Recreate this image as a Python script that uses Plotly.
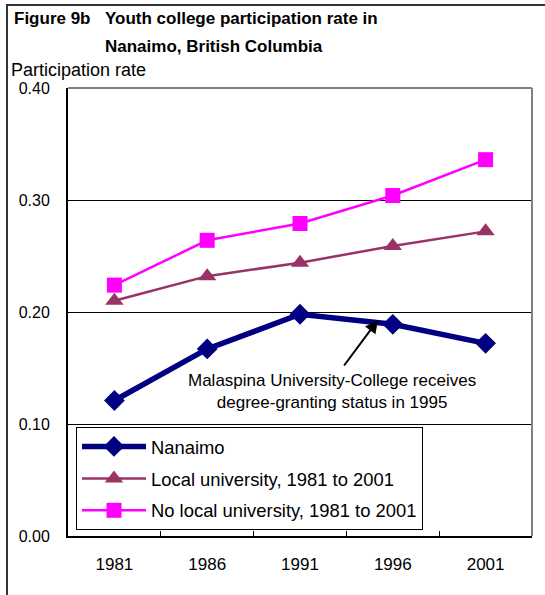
import plotly.graph_objects as go

years = ["1981", "1986", "1991", "1996", "2001"]
nanaimo = [0.121, 0.167, 0.198, 0.189, 0.172]
local_uni = [0.210, 0.232, 0.244, 0.259, 0.272]
no_local_uni = [0.224, 0.264, 0.279, 0.304, 0.336]
y_ticks = [0.0, 0.1, 0.2, 0.3, 0.4]

W, H = 545, 595
L, R, T, B = 68, 532, 88, 536
FONT = "Liberation Sans, Arial, sans-serif"


def px(x):
    return (x - L) / (R - L)


def py(y):
    return (B - y) / (B - T)


fig = go.Figure()
fig.add_trace(go.Scatter(x=years, y=nanaimo, name="Nanaimo", mode="lines+markers",
                         legendgroup="a",
                         line=dict(color="#000080", width=5.5),
                         marker=dict(symbol="diamond", size=16, color="#000080")))
fig.add_trace(go.Scatter(x=years, y=local_uni, name="Local university, 1981 to 2001",
                         mode="lines+markers", legendgroup="b",
                         line=dict(color="#993366", width=2.5),
                         marker=dict(symbol="triangle-up", size=16, color="#993366")))
fig.add_trace(go.Scatter(x=years, y=no_local_uni, name="No local university, 1981 to 2001",
                         mode="lines+markers", legendgroup="c",
                         line=dict(color="#FF00FF", width=2.5),
                         marker=dict(symbol="square", size=15, color="#FF00FF")))

fig.update_layout(
    width=W, height=H,
    margin=dict(l=L, r=W - R, t=T, b=H - B),
    paper_bgcolor="white", plot_bgcolor="white",
    font=dict(family=FONT, size=17, color="black"),
    showlegend=True,
    legend=dict(x=px(76), y=py(427), xanchor="left", yanchor="top",
                bgcolor="white", bordercolor="black", borderwidth=1,
                font=dict(size=18.4), tracegroupgap=5, itemwidth=64),
    xaxis=dict(type="category", range=[-0.5, 4.5], showline=True, linecolor="black",
               linewidth=2, ticks="inside", tickson="boundaries", ticklen=5,
               tickcolor="black", showgrid=False, zeroline=False,
               tickfont=dict(size=17), ticklabelstandoff=12),
    yaxis=dict(range=[0, 0.4], tickvals=y_ticks, tickformat=".2f", showline=True,
               linecolor="black", linewidth=2, ticks="", showgrid=True,
               gridcolor="black", gridwidth=1, zeroline=False,
               tickfont=dict(size=16), ticklabelstandoff=13),
)

# grey top and right border of the plot area
fig.add_shape(type="line", xref="paper", yref="paper", x0=0, x1=1, y0=1, y1=1,
              line=dict(color="#808080", width=2), layer="above")
fig.add_shape(type="line", xref="paper", yref="paper", x0=1, x1=1, y0=0, y1=1,
              line=dict(color="#808080", width=2), layer="above")
# outer frame (open at right and bottom edges of the picture)
fig.add_shape(type="line", xref="paper", yref="paper", x0=px(6), x1=px(545),
              y0=py(5), y1=py(5), line=dict(color="#333333", width=2), layer="above")
fig.add_shape(type="line", xref="paper", yref="paper", x0=px(7), x1=px(7),
              y0=py(4), y1=py(600), line=dict(color="#333333", width=2), layer="above")

# titles
fig.add_annotation(text="<b>Figure 9b</b>", xref="paper", yref="paper", x=px(12), y=py(19),
                   xanchor="left", yanchor="middle", showarrow=False, font=dict(size=17))
fig.add_annotation(text="<b>Youth college participation rate in</b>", xref="paper", yref="paper",
                   x=px(103), y=py(19), xanchor="left", yanchor="middle", showarrow=False,
                   font=dict(size=17))
fig.add_annotation(text="<b>Nanaimo, British Columbia</b>", xref="paper", yref="paper",
                   x=px(103), y=py(46), xanchor="left", yanchor="middle", showarrow=False,
                   font=dict(size=17))
fig.add_annotation(text="Participation rate", xref="paper", yref="paper", x=px(9), y=py(70),
                   xanchor="left", yanchor="middle", showarrow=False, font=dict(size=18))

# note with arrow
fig.add_annotation(text="Malaspina University-College receives<br>degree-granting status in 1995",
                   xref="paper", yref="paper", x=px(332), y=py(391), xanchor="center",
                   yanchor="middle", showarrow=False, font=dict(size=17))
fig.add_annotation(text="", xref="paper", yref="paper", x=px(378), y=py(320),
                   ax=-35, ay=47, showarrow=True, arrowhead=2, arrowsize=1.3,
                   arrowwidth=2, arrowcolor="black")

fig.write_html("out.html", config={"displayModeBar": False},
               post_script="document.body.style.margin='0';")
